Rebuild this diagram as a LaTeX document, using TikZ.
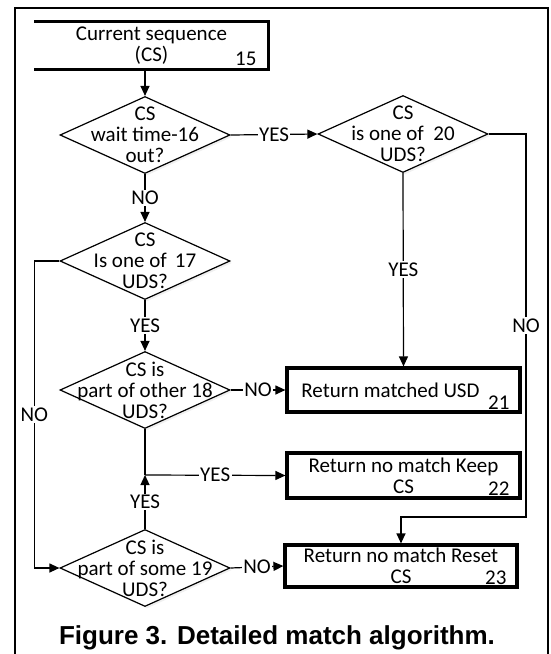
\documentclass[tikz,border=0pt]{standalone}
\usepackage{fontspec}
\setmainfont{Carlito}
\newfontfamily\capfont{Liberation Sans}
\usetikzlibrary{arrows.meta,calc,positioning,shapes.geometric,shadows}
\tikzset{
  stepbox/.style={
    draw=black, line width=3.2pt, fill=white, align=center, inner sep=0pt,
    minimum width=232pt, minimum height=44pt,
    drop shadow={shadow xshift=2pt, shadow yshift=-2pt, opacity=0.15}
  },
  decision/.style={
    diamond, draw=black, line width=1.2pt, fill=white, inner sep=0pt,
    minimum width=170pt, minimum height=77pt,
    drop shadow={shadow xshift=2pt, shadow yshift=-2pt, opacity=0.12}
  },
  dtext/.style={align=center, inner sep=0pt},
  num/.style={label={[anchor=south east, inner sep=0pt, xshift=-12pt,
    yshift=4pt]south east:#1}},
  flow/.style={-{Triangle[length=10pt,width=9pt]}, line width=1.2pt},
  plain/.style={line width=1.2pt},
  tag/.style={fill=white, inner sep=1.5pt}
}

\begin{document}
\begin{tikzpicture}[x=1pt,y=-1pt,font=\fontsize{21}{21}\selectfont]
    \useasboundingbox (0,0) rectangle (550,654);
    \draw[line width=2pt] (15,654) -- (15,8) -- (548,8) -- (548,654);

    \node[stepbox,draw=none,minimum width=231pt,minimum height=45pt,num=15] (cs)
      at (151.5,45.5) {Current sequence\\(CS)};
    \draw[line width=3.2pt] (cs.south west) -- (cs.south east)
      -- (cs.north east) -- (cs.north west);

    \node[decision] (wait) at (145,135) {};
    \node[dtext] at (wait) {CS\\wait time-16\\out?};
    \node[decision] (uds2) at (403,134) {};
    \node[dtext] at (uds2) {CS\\is one of \ 20\\UDS?};
    \node[decision] (uds1) at (145,261) {};
    \node[dtext] at (uds1) {CS\\Is one of \,17\\UDS?};
    \node[decision] (other) at (145,390) {};
    \node[dtext] at (other) {CS is\\part of other 18\\UDS?};
    \node[decision] (some) at (145,568) {};
    \node[dtext] at (some) {CS is\\part of some 19\\UDS?};

    \node[stepbox,minimum width=233pt,num=21] (matched) at (403.5,390)
      {Return matched USD\hspace{26pt}};
    \node[stepbox,minimum width=233pt,minimum height=45pt,num=22] (keep)
      at (403.5,475.5) {Return no match Keep\\CS};
    \node[stepbox,minimum height=42pt,num=23] (reset) at (401,566)
      {Return no match Reset\\CS};

    \coordinate (join) at (145,475);
    \coordinate (bend) at (526,517);

    \draw[flow] (cs.south -| wait.north) -- (wait.north);
    \draw[flow] (wait.east) -- node[tag]{YES} (uds2.west);
    \draw[flow] (wait.south) -- node[tag]{NO} (uds1.north);
    \draw[flow] (uds1.south) -- node[tag]{YES} (other.north);
    \draw[flow] (uds1.west) -- ++(-25,0) |- node[tag,pos=0.25]{NO} (some.west);
    \draw[flow] (other.east) -- node[tag]{NO} (matched.west);
    \draw[plain] (other.south) -- (join);
    \draw[flow] (some.north) -- node[tag]{YES} (join);
    \draw[flow] (join) -- node[tag]{YES} (keep.west);
    \draw[flow] (some.east) -- node[tag]{NO} (reset.west);
    \draw[flow] (uds2.south) -- node[tag]{YES} (matched.north);
    \draw[flow] (uds2.east) -- (uds2.east -| bend) -- node[tag]{NO} (bend)
      -| (reset.north);

    \node[font=\capfont\bfseries\fontsize{26}{28}\selectfont] (cap) at (277,638)
      {Figure 3. Detailed match algorithm.};
  \end{tikzpicture}
\end{document}
